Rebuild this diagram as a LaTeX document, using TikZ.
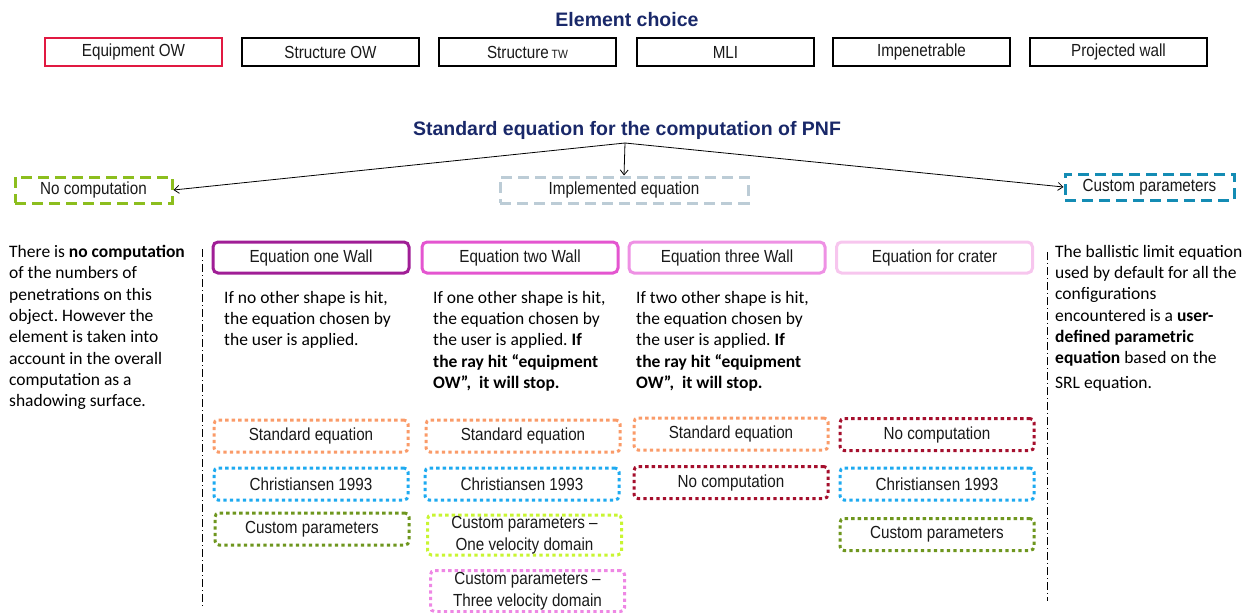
\documentclass[tikz,border=0pt]{standalone}
\usepackage{fontspec}
\setmainfont{Liberation Sans}
\newfontfamily\bodyfont{Carlito}
\newfontfamily\boxfnt{Liberation Sans}[FakeStretch=0.87]
\usetikzlibrary{arrows.meta}
\frenchspacing
\definecolor{navy}{RGB}{25,40,105}
\definecolor{eqred}{RGB}{225,25,65}
\definecolor{ncgreen}{RGB}{140,190,30}
\definecolor{implgray}{RGB}{188,204,214}
\definecolor{teal}{RGB}{20,140,180}
\definecolor{eqone}{RGB}{160,30,150}
\definecolor{eqtwo}{RGB}{228,85,208}
\definecolor{eqthree}{RGB}{238,145,228}
\definecolor{eqcrater}{RGB}{247,198,238}
\definecolor{dorange}{RGB}{250,155,105}
\definecolor{dblue}{RGB}{30,170,240}
\definecolor{dolive}{RGB}{110,150,30}
\definecolor{dlime}{RGB}{200,245,50}
\definecolor{dpink}{RGB}{238,135,228}
\definecolor{dred}{RGB}{165,15,45}
\begin{document}
\frenchspacing
\begin{tikzpicture}[x=1pt,y=-1pt,
  boxfont/.style={font=\boxfnt\fontsize{17.5}{21.7}\selectfont, text=black!90},
  title/.style={font=\bfseries\fontsize{19.5}{22}\selectfont, text=navy, inner sep=0pt},
  topbox/.style={draw, line width=2pt, minimum width=177pt, minimum height=28pt, inner sep=0pt, boxfont},
  eqbox/.style={draw, line width=3pt, rounded corners=5pt, minimum width=196pt, minimum height=31pt, inner sep=0pt, boxfont},
  dotbox/.style={draw, line width=3pt, dash pattern=on 3.3pt off 3.2pt, rounded corners=4pt, minimum width=194pt, minimum height=32pt, inner sep=0pt, align=center, boxfont},
  dashbox/.style={draw, line width=3pt, dash pattern=on 11pt off 6pt, minimum height=26pt, inner sep=0pt, boxfont},
  desc/.style={anchor=north west, inner sep=0pt, align=left, font=\bodyfont\frenchspacing\fontsize{17.5}{21.3}\selectfont},
  sepline/.style={line width=1pt, dash pattern=on 8pt off 3pt on 1pt off 3pt},
  arr/.style={line width=0.8pt, -{Straight Barb[length=5pt,width=8pt]}}
]
\useasboundingbox (0,0) rectangle (1259,613);

% Element choice
\node[title] (elt) at (627,20) {Element choice};
\node[topbox, draw=eqred] (equip) at (133.5,52) {Equipment OW};
\node[topbox] (strow) at (330.5,52) {Structure OW};
\node[topbox] (strtw) at (527.5,52) {Structure\,{\fontsize{12}{12}\selectfont TW}};
\node[topbox] (mli) at (725.5,52) {MLI};
\node[topbox] (imp) at (921.5,52) {Impenetrable};
\node[topbox] (proj) at (1118.5,52) {Projected wall};

% Standard equation
\node[title] (std) at (627,130) {Standard equation for the computation of PNF};
\coordinate (hub) at (625,143);
\node[dashbox, draw=ncgreen, minimum width=157pt] (nocomp) at (93.5,190) {No computation};
\node[dashbox, draw=implgray, minimum width=248pt] (impl) at (624,190) {Implemented equation};
\node[dashbox, draw=teal, minimum width=169pt] (custom) at (1149.5,187) {Custom parameters};
\draw[arr] (hub) -- (nocomp.east);
\draw[arr] (hub) -- (impl.north);
\draw[arr] (hub) -- (custom.west);

% separators
\coordinate (s1a) at (202,249);
\coordinate (s1b) at (202,608);
\coordinate (s2a) at (1047,252);
\coordinate (s2b) at (1047,601);
\draw[sepline] (s1a) -- (s1b);
\draw[sepline] (s2a) -- (s2b);

% left and right texts
\node[desc] (ltext) at (9,245) {There is \textbf{no computation}\\of the numbers of\\penetrations on this\\object. However the\\element is taken into\\account in the overall\\computation as a\\shadowing surface.};
\node[desc] (rtext) at (1055,245) {The ballistic limit equation\\used by default for all the\\configurations\\encountered is a \textbf{user-}\\\textbf{defined parametric}\\\textbf{equation} based on the\\[3pt]SRL equation.};

% equation boxes
\node[eqbox, draw=eqone] (eq1) at (311,257.5) {Equation one Wall};
\node[eqbox, draw=eqtwo] (eq2) at (520,257.5) {Equation two Wall};
\node[eqbox, draw=eqthree] (eq3) at (727,257.5) {Equation three Wall};
\node[eqbox, draw=eqcrater] (eqc) at (934.5,257.5) {Equation for crater};

\node[desc] (d1) at (224,291) {If no other shape is hit,\\the equation chosen by\\the user is applied.};
\node[desc] (d2) at (433,291) {If one other shape is hit,\\the equation chosen by\\the user is applied. \textbf{If}\\\textbf{the ray hit “equipment}\\\textbf{OW”, \ it will stop.}};
\node[desc] (d3) at (636,291) {If two other shape is hit,\\the equation chosen by\\the user is applied. \textbf{If}\\\textbf{the ray hit “equipment}\\\textbf{OW”, \ it will stop.}};

% column 1
\node[dotbox, draw=dorange] (c1std) at (311,436) {Standard equation};
\node[dotbox, draw=dblue] (c1chr) at (311,484) {Christiansen 1993};
\node[dotbox, draw=dolive] (c1cus) at (312,529) {Custom parameters};
% column 2
\node[dotbox, draw=dorange] (c2std) at (523,436) {Standard equation};
\node[dotbox, draw=dblue] (c2chr) at (522,484) {Christiansen 1993};
\node[dotbox, draw=dlime, minimum height=40pt] (c2one) at (524.5,535) {Custom parameters –\\One velocity domain};
\node[dotbox, draw=dpink, minimum height=41pt] (c2three) at (527.5,591) {Custom parameters –\\Three velocity domain};
% column 3
\node[dotbox, draw=dorange] (c3std) at (731,434) {Standard equation};
\node[dotbox, draw=dred] (c3no) at (731,482.5) {No computation};
% column 4
\node[dotbox, draw=dred] (c4no) at (937,434.5) {No computation};
\node[dotbox, draw=dblue] (c4chr) at (937,484) {Christiansen 1993};
\node[dotbox, draw=dolive] (c4cus) at (937,534.5) {Custom parameters};
\end{tikzpicture}
\end{document}
